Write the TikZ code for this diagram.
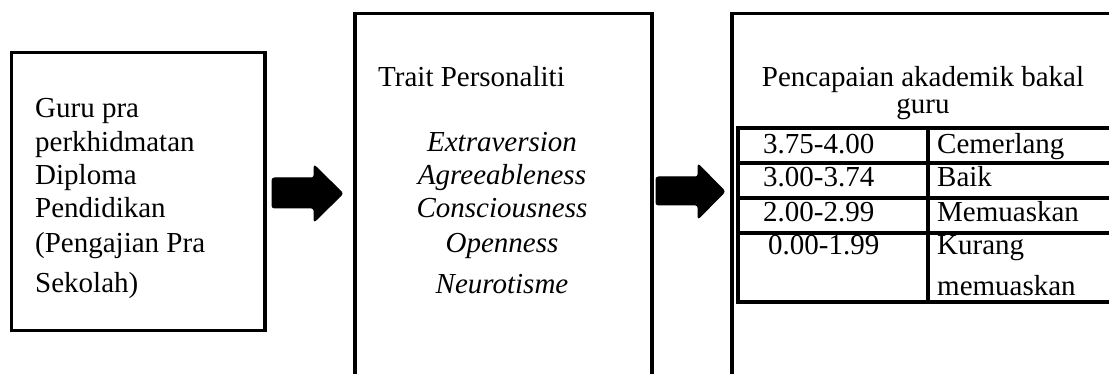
\documentclass[tikz,border=0pt]{standalone}
\usepackage{fontspec}
\setmainfont{Liberation Serif}
\begin{document}
\begin{tikzpicture}[x=1pt,y=-1pt,
  box/.style={draw,line width=3.2pt,inner sep=0pt,rectangle},
  tline/.style={line width=3.2pt},
  blockarrow/.style={fill=black,draw=black,line width=1pt,rounded corners=2.5pt},
  txt/.style={inner sep=0pt,font=\fontsize{29}{33.5}\selectfont},
  lt/.style={txt,anchor=base west},
  ct/.style={txt,anchor=base},
  it/.style={txt,anchor=base,font=\fontsize{29}{33.5}\selectfont\itshape}]
\useasboundingbox (0,0) rectangle (1109,374);
\clip (0,0) rectangle (1109,374);
% boxes
\node[box,minimum width=253.5pt,minimum height=278pt] (b1) at (138.25,191.5) {};
\node[box,minimum width=297pt,minimum height=386.5pt] (b2) at (503.5,206.75) {};
\node[box,minimum width=398pt,minimum height=386.5pt] (b3) at (931,206.75) {};
% block arrows
\fill[blockarrow] (272,178) -- (314,178) -- (314,165) -- (343,193.5) -- (314,222) -- (314,208) -- (272,208) -- cycle;
\fill[blockarrow] (656,177) -- (698,177) -- (698,164) -- (725,191.5) -- (698,219) -- (698,205) -- (656,205) -- cycle;
% box 1 text
\node[lt] (g1) at (35,118) {Guru pra};
\node[lt] (g2) at (35,152) {perkhidmatan};
\node[lt] (g3) at (35,185) {Diploma};
\node[lt] (g4) at (35,218) {Pendidikan};
\node[lt] (g5) at (35,253) {(Pengajian Pra};
\node[lt] (g6) at (35,293) {Sekolah)};
% box 2 text
\node[lt] (tp) at (378,87) {Trait Personaliti};
\node[it] (t1) at (502,152) {Extraversion};
\node[it] (t2) at (502,185) {Agreeableness};
\node[it] (t3) at (502,218) {Consciousness};
\node[it] (t4) at (502,253) {Openness};
\node[it] (t5) at (502,294) {Neurotisme};
% box 3 text
\node[ct] (p1) at (923,87) {Pencapaian akademik bakal};
\node[ct] (p2) at (923,114) {guru};
% table
\draw[tline] (738,128) -- (1130,128);
\draw[tline] (738,163) -- (1130,163);
\draw[tline] (738,198) -- (1130,198);
\draw[tline] (738,233) -- (1130,233);
\draw[tline] (738,302) -- (1130,302);
\draw[tline] (738,126.4) -- (738,303.6);
\draw[tline] (928,126.4) -- (928,303.6);
\node[lt] (r1a) at (763,154) {3.75-4.00};
\node[lt] (r2a) at (763,187) {3.00-3.74};
\node[lt] (r3a) at (763,222) {2.00-2.99};
\node[lt] (r4a) at (768,255) {0.00-1.99};
\node[lt] (r1b) at (937,154) {Cemerlang};
\node[lt] (r2b) at (937,187) {Baik};
\node[lt] (r3b) at (937,222) {Memuaskan};
\node[lt] (r4b) at (937,255) {Kurang};
\node[lt] (r5b) at (937,295) {memuaskan};
\end{tikzpicture}
\end{document}
